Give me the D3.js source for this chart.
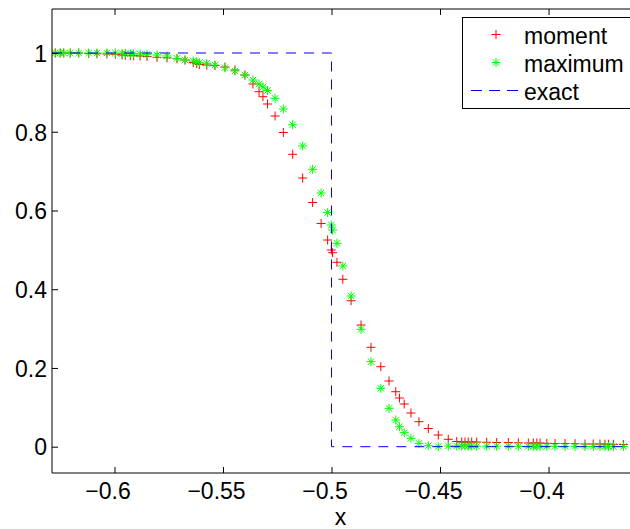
<!DOCTYPE html>
<html>
<head>
<meta charset="utf-8">
<script src="https://cdn.jsdelivr.net/npm/d3@7"></script>
<style>
  html, body { margin: 0; padding: 0; background: #fff; }
  svg { display: block; font-family: "Liberation Sans", Arial, Helvetica, sans-serif; }
</style>
</head>
<body>
<svg id="chart" width="630" height="529"></svg>
<script>
// ---- data ----
const xValues = [-0.6273,-0.6250,-0.6234,-0.6204,-0.6165,-0.6119,-0.6081,-0.6035,-0.5996,
  -0.5965,-0.5950,-0.5927,-0.5912,-0.5882,-0.5850,-0.5804,-0.5758,-0.5712,-0.5675,
  -0.5637,-0.5621,-0.5609,-0.5575,-0.5537,-0.5491,-0.5445,-0.5399,-0.5362,-0.5334,
  -0.5316,-0.5295,-0.5260,-0.5222,-0.5179,-0.5133,-0.5087,-0.5048,-0.5018,-0.5001,
  -0.4995,-0.4975,-0.4948,-0.4910,-0.4864,-0.4818,-0.4773,-0.4735,-0.4704,-0.4687,
  -0.4665,-0.4634,-0.4597,-0.4554,-0.4508,-0.4462,-0.4423,-0.4400,-0.4385,-0.4370,
  -0.4354,-0.4331,-0.4285,-0.4239,-0.4185,-0.4139,-0.4093,-0.4070,-0.4054,-0.4039,
  -0.4008,-0.3970,-0.3924,-0.3878,-0.3832,-0.3794,-0.3763,-0.3740,-0.3724,-0.3701,
  -0.3655];
const momentY = [1.000,1.000,1.000,1.000,1.000,0.9987,0.9982,0.9975,0.9967,
  0.9949,0.9942,0.9937,0.9930,0.9924,0.9911,0.9891,0.9878,0.9853,0.9822,
  0.9759,0.9733,0.9708,0.9695,0.9682,0.9644,0.9568,0.9441,0.9213,0.9017,
  0.8890,0.8705,0.8400,0.7981,0.7427,0.6825,0.6203,0.5669,0.5250,0.4996,
  0.4928,0.4684,0.4252,0.3708,0.3091,0.2525,0.2032,0.1669,0.1397,0.1237,
  0.1085,0.0856,0.0635,0.0462,0.0297,0.0188,0.0132,0.0119,0.0119,0.0119,
  0.0119,0.0119,0.0112,0.0107,0.0107,0.0099,0.0094,0.0094,0.0094,0.0094,
  0.0086,0.0081,0.0081,0.0076,0.0069,0.0069,0.0069,0.0064,0.0064,0.0061,
  0.0056];
const maximumY = [1.000,1.000,1.000,1.000,1.000,1.000,1.000,1.000,1.000,
  0.9987,0.9987,0.9982,0.9980,0.9975,0.9967,0.9949,0.9924,0.9865,0.9822,
  0.9797,0.9779,0.9754,0.9738,0.9695,0.9627,0.9543,0.9441,0.9314,0.9213,
  0.9136,0.9047,0.8849,0.8578,0.8179,0.7638,0.7046,0.6444,0.5949,0.5631,
  0.5504,0.5166,0.4590,0.3828,0.2982,0.2159,0.1483,0.0975,0.0678,0.0508,
  0.0356,0.0213,0.0086,0.0025,0.0005,0.0018,0.0018,0.0018,0.0018,0.0018,
  0.0018,0.0013,0.0013,0.0013,0.0013,0.0010,0.0010,0.0010,0.0010,0.0010,
  0.0010,0.0008,0.0008,0.0008,0.0005,0.0005,0.0005,0.0005,0.0005,0.0005,
  0.0005];
const exactX = [-0.6288, -0.5, -0.5, -0.362];
const exactY = [1, 1, 0, 0];
const xDomain = [-0.6288, -0.362];
const yDomain = [-0.0668, 1.1118];
const xTicks = [-0.6, -0.55, -0.5, -0.45, -0.4];
const yTicks = [0, 0.2, 0.4, 0.6, 0.8, 1];
const legendLabels = ["moment", "maximum", "exact"];
const xLabel = "x";

// ---- layout ----
const m = { left: 52, top: 9, right: 631, bottom: 473 };
const FS = 23;

const svg = d3.select("#chart");
const x = d3.scaleLinear().domain(xDomain).range([m.left, m.right]);
const y = d3.scaleLinear().domain(yDomain).range([m.bottom, m.top]);

svg.append("defs").append("clipPath").attr("id", "clip")
  .append("rect").attr("x", m.left).attr("y", m.top)
  .attr("width", m.right - m.left).attr("height", m.bottom - m.top);

const plot = svg.append("g").attr("clip-path", "url(#clip)");

const plusPath = "M-4.5,0H4.5M0,-4.5V4.5";
const starPath = "M-4.5,0H4.5M0,-4.5V4.5M-3.2,-3.2L3.2,3.2M-3.2,3.2L3.2,-3.2";

// moment (red +)
plot.append("g").selectAll("path").data(xValues.map((d, i) => [d, momentY[i]]))
  .join("path")
  .attr("transform", d => `translate(${x(d[0])},${y(d[1])})`)
  .attr("d", plusPath).attr("stroke", "#ff0000").attr("stroke-width", 1).attr("fill", "none");

// maximum (green *)
plot.append("g").selectAll("path").data(xValues.map((d, i) => [d, maximumY[i]]))
  .join("path")
  .attr("transform", d => `translate(${x(d[0])},${y(d[1])})`)
  .attr("d", starPath).attr("stroke", "#00ff00").attr("stroke-width", 1).attr("fill", "none");

// exact (blue dashed)
const line = d3.line().x(d => x(d[0])).y(d => y(d[1]));
plot.append("path")
  .datum(exactX.map((d, i) => [d, exactY[i]]))
  .attr("d", line).attr("fill", "none")
  .attr("stroke", "#0000ff").attr("stroke-width", 1).attr("stroke-dasharray", "10,8");

// ---- axes ----
const fmt = d => (d < 0 ? "\u2212" : "") + String(Math.abs(d));

const gx = svg.append("g").attr("transform", `translate(0,${m.bottom})`)
  .call(d3.axisBottom(x).tickValues(xTicks).tickSizeInner(-6).tickSizeOuter(0).tickPadding(10).tickFormat(fmt));
const gxTop = svg.append("g").attr("transform", `translate(0,${m.top})`)
  .call(d3.axisTop(x).tickValues(xTicks).tickSizeInner(-6).tickSizeOuter(0).tickFormat(""));
const gy = svg.append("g").attr("transform", `translate(${m.left},0)`)
  .call(d3.axisLeft(y).tickValues(yTicks).tickSizeInner(-6).tickSizeOuter(0).tickPadding(5).tickFormat(d => String(d)));

[gx, gxTop, gy].forEach(g => {
  g.select(".domain").remove();
  g.selectAll(".tick line").attr("stroke", "#000").attr("stroke-width", 1);
  g.selectAll("text").attr("font-size", FS).attr("fill", "#000")
    .attr("font-family", "'Liberation Sans', Arial, Helvetica, sans-serif");
});
gx.selectAll("text").attr("x", -7);
gy.selectAll("text").attr("dy", "0.36em");

// frame (left, top, bottom)
svg.append("path")
  .attr("d", `M${m.right},${m.top}H${m.left}V${m.bottom}H${m.right}`)
  .attr("fill", "none").attr("stroke", "#000").attr("stroke-width", 1);

// x label
svg.append("text").attr("x", (m.left + m.right) / 2 - 1).attr("y", 525)
  .attr("text-anchor", "middle").attr("font-size", FS).attr("fill", "#000").text(xLabel);

// ---- legend ----
const lg = svg.append("g");
lg.append("rect").attr("x", 462.5).attr("y", 17.5).attr("width", 200).attr("height", 91)
  .attr("fill", "#fff").attr("stroke", "#000").attr("stroke-width", 1);
const rowY = [34.5, 62.5, 90.5];
lg.append("path").attr("transform", `translate(496,${rowY[0]})`).attr("d", plusPath)
  .attr("stroke", "#ff0000").attr("fill", "none");
lg.append("path").attr("transform", `translate(496,${rowY[1]})`).attr("d", starPath)
  .attr("stroke", "#00ff00").attr("fill", "none");
lg.append("line").attr("x1", 471).attr("x2", 520).attr("y1", rowY[2]).attr("y2", rowY[2])
  .attr("stroke", "#0000ff").attr("stroke-dasharray", "11,7");
legendLabels.forEach((t, i) => {
  lg.append("text").attr("x", 524).attr("y", rowY[i] + 9).attr("font-size", FS)
    .attr("fill", "#000").text(t);
});
</script>
</body>
</html>
